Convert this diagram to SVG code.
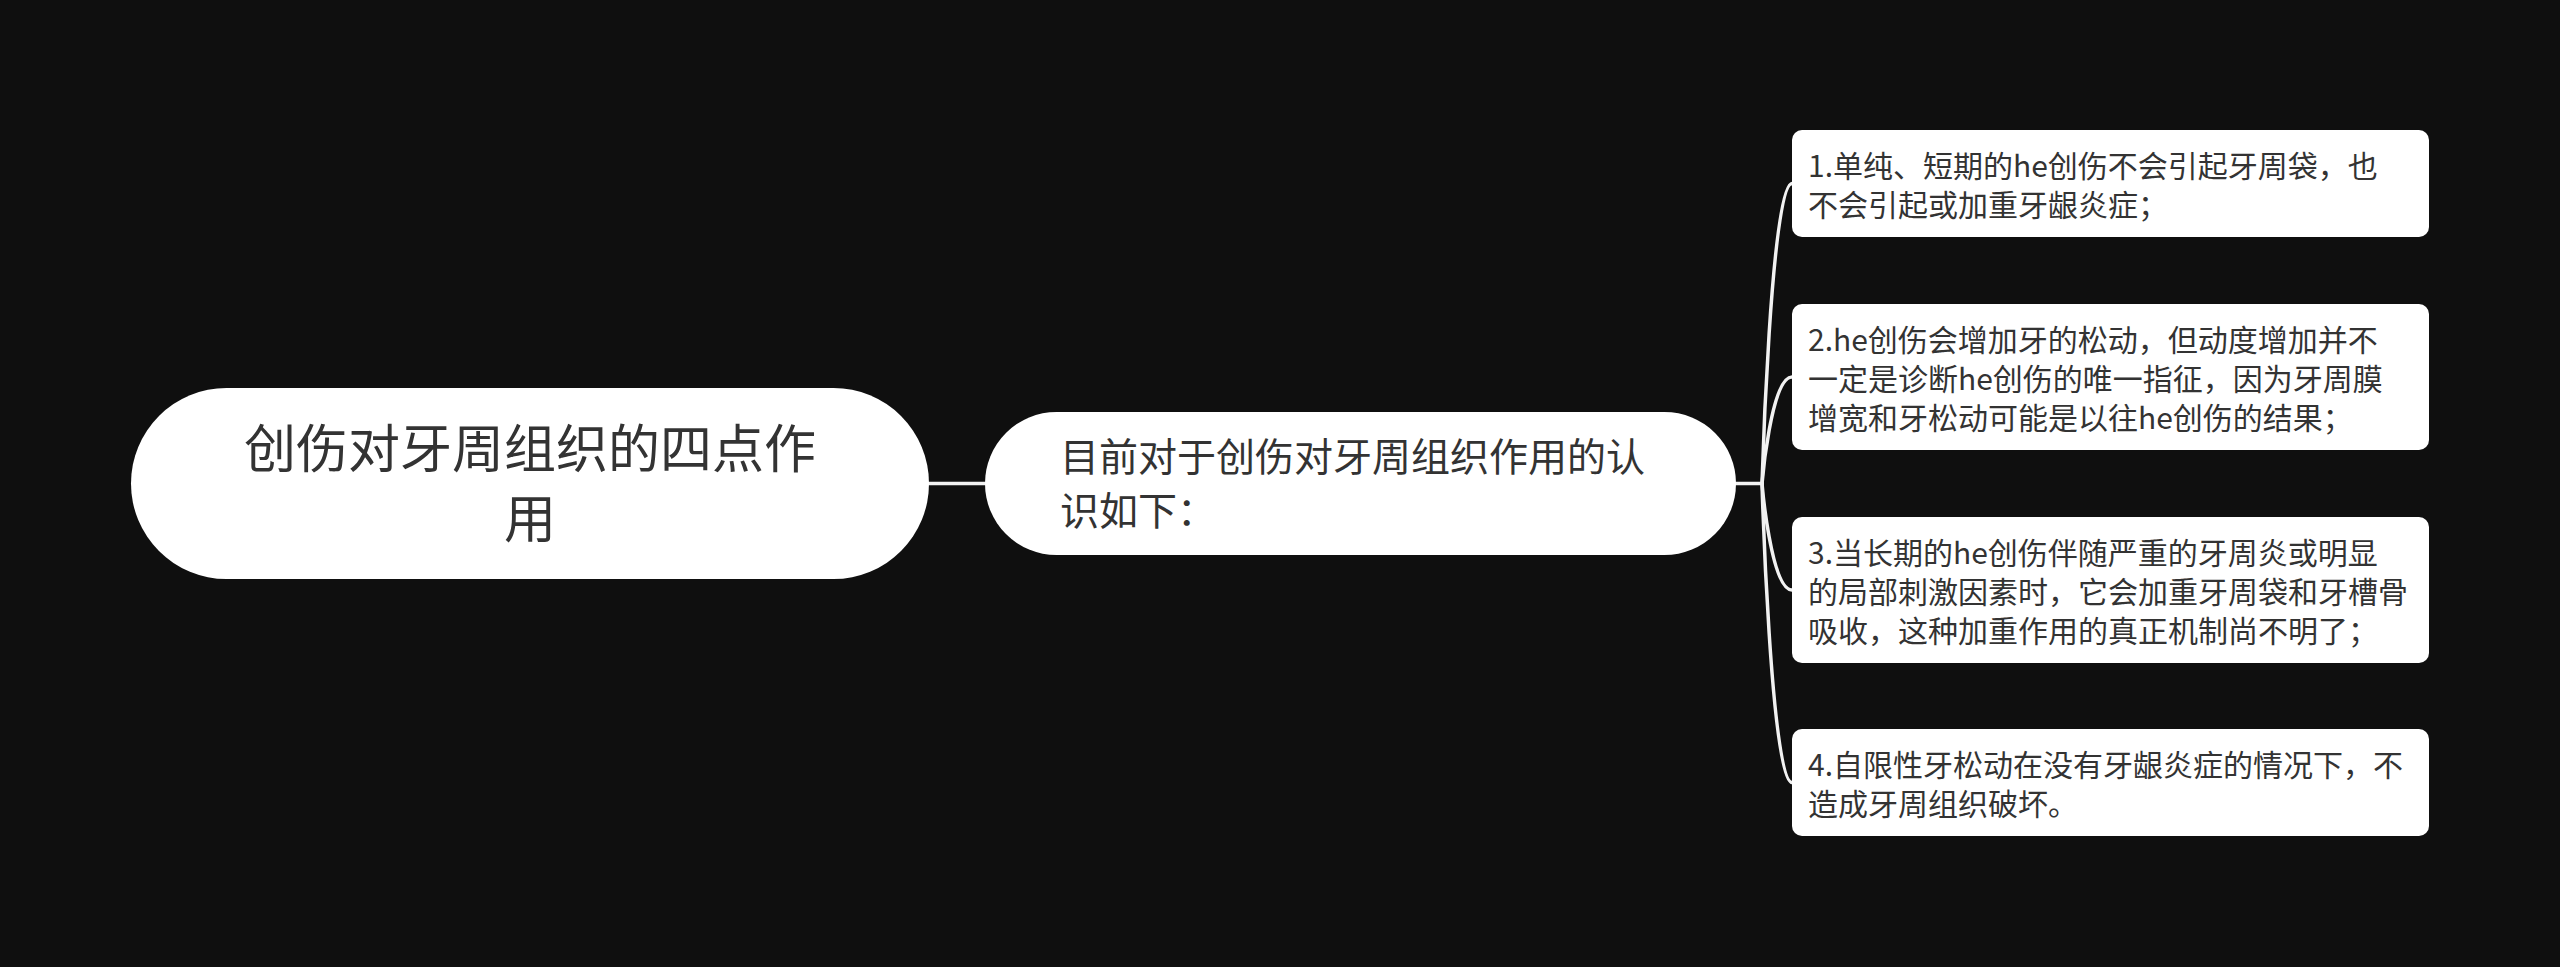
<svg xmlns="http://www.w3.org/2000/svg" width="2560" height="967" viewBox="0 0 2560 967">
<style>
.bg{fill:#0f0f0f}
.box{fill:#ffffff}
.t{fill:#333333;font-family:"Noto Sans CJK SC","Noto Sans","Liberation Sans",sans-serif}
.root{font-size:52px}
.mid{font-size:39px}
.leaf{font-size:30px}
.ln{fill:none;stroke:#f2f2f2;stroke-width:3.5;stroke-linecap:round}
</style>
<rect class="bg" x="0" y="0" width="2560" height="967"/>
<g id="connectors">
<path class="ln" d="M929 483.5 H985"/>
<path class="ln" d="M1736 483.5 H1762"/>
<path class="ln" d="M1762 483.5 C1762 483.5 1771 183.5 1792 183.5"/>
<path class="ln" d="M1762 483.5 C1762 483.5 1771 377 1792 377"/>
<path class="ln" d="M1762 483.5 C1762 483.5 1771 590 1792 590"/>
<path class="ln" d="M1762 483.5 C1762 483.5 1771 782.5 1792 782.5"/>
</g>
<g id="root">
<rect class="box" x="131" y="388" width="798" height="191" rx="95.5"/>
<text class="t root" x="530" y="468" text-anchor="middle">创伤对牙周组织的四点作</text>
<text class="t root" x="530" y="538" text-anchor="middle">用</text>
</g>
<g id="mid">
<rect class="box" x="985" y="412" width="751" height="143" rx="71.5"/>
<text class="t mid" x="1060" y="471">目前对于创伤对牙周组织作用的认</text>
<text class="t mid" x="1060" y="525">识如下：</text>
</g>
<g id="leaf1">
<rect class="box" x="1792" y="130" width="637" height="107" rx="10"/>
<text class="t leaf" x="1808" y="177">1.单纯、短期的he创伤不会引起牙周袋，也</text>
<text class="t leaf" x="1808" y="216">不会引起或加重牙龈炎症；</text>
</g>
<g id="leaf2">
<rect class="box" x="1792" y="304" width="637" height="146" rx="10"/>
<text class="t leaf" x="1808" y="351">2.he创伤会增加牙的松动，但动度增加并不</text>
<text class="t leaf" x="1808" y="390">一定是诊断he创伤的唯一指征，因为牙周膜</text>
<text class="t leaf" x="1808" y="429">增宽和牙松动可能是以往he创伤的结果；</text>
</g>
<g id="leaf3">
<rect class="box" x="1792" y="517" width="637" height="146" rx="10"/>
<text class="t leaf" x="1808" y="564">3.当长期的he创伤伴随严重的牙周炎或明显</text>
<text class="t leaf" x="1808" y="603">的局部刺激因素时，它会加重牙周袋和牙槽骨</text>
<text class="t leaf" x="1808" y="642">吸收，这种加重作用的真正机制尚不明了；</text>
</g>
<g id="leaf4">
<rect class="box" x="1792" y="729" width="637" height="107" rx="10"/>
<text class="t leaf" x="1808" y="776">4.自限性牙松动在没有牙龈炎症的情况下，不</text>
<text class="t leaf" x="1808" y="815">造成牙周组织破坏。</text>
</g>
</svg>
